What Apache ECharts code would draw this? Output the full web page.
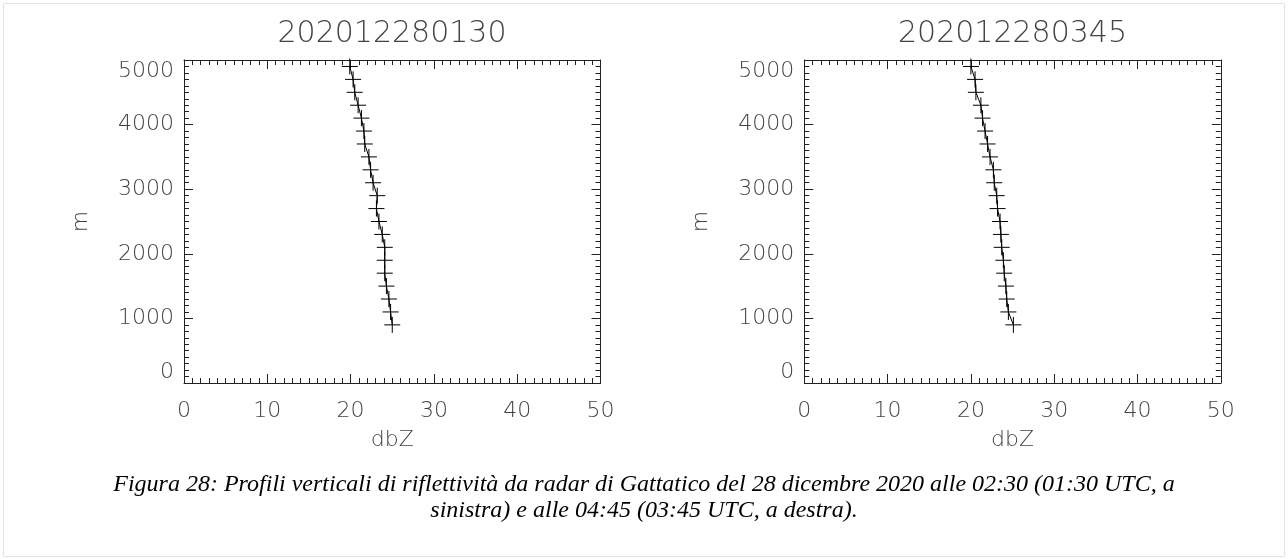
<!DOCTYPE html>
<html>
<head>
<meta charset="utf-8">
<script src="https://cdn.jsdelivr.net/npm/echarts@6/dist/echarts.min.js"></script>
<style>
html,body{margin:0;padding:0;background:#fff;}
#chart{width:1288px;height:559px;}
</style>
</head>
<body>
<div id="chart"></div>
<script>
// ---- data ----
const titles = ['202012280130', '202012280345'];
const heights = [900, 1100, 1300, 1500, 1700, 1900, 2100, 2300, 2500, 2700, 2900, 3100, 3300, 3500, 3700, 3900, 4100, 4300, 4500, 4700, 4900];
const dbzLeft = [25.0, 24.8, 24.6, 24.3, 24.1, 24.1, 24.1, 23.8, 23.4, 23.1, 23.2, 22.7, 22.4, 22.2, 21.7, 21.6, 21.3, 20.9, 20.5, 20.3, 19.9];
const dbzRight = [25.1, 24.5, 24.3, 24.2, 24.0, 23.9, 23.7, 23.6, 23.5, 23.2, 23.1, 22.8, 22.7, 22.3, 22.0, 21.7, 21.4, 21.2, 20.6, 20.5, 20.0];
const xTicks = [0, 10, 20, 30, 40, 50];
const yTicks = [0, 1000, 2000, 3000, 4000, 5000];
const xName = 'dbZ';
const yName = 'm';
const caption = 'Figura 28: Profili verticali di riflettività da radar di Gattatico del 28 dicembre 2020 alle 02:30 (01:30 UTC, a\nsinistra) e alle 04:45 (03:45 UTC, a destra).';

// ---- styling ----
const FONT = 'DejaVu Sans';
const TXT = '#444';
const AX = '#222';
const grids = [
  {left: 184, top: 60, width: 416.5, height: 323},
  {left: 804.3, top: 60, width: 416.5, height: 323}
];

function tickCfg() {
  return {
    axisLine: {show: true, onZero: false, lineStyle: {color: AX, width: 1}},
    axisTick: {show: true, inside: true, length: 9, lineStyle: {color: AX, width: 1}},
    minorTick: {show: true, splitNumber: 10, length: 5, lineStyle: {color: AX, width: 1}},
    splitLine: {show: false},
    minorSplitLine: {show: false}
  };
}

const plain = v => String(v);
const xAxes = [], yAxes = [];
[0, 1].forEach(g => {
  xAxes.push(Object.assign({
    type: 'value', gridIndex: g, position: 'bottom',
    min: xTicks[0], max: xTicks[xTicks.length - 1], interval: xTicks[1] - xTicks[0],
    name: xName, nameLocation: 'middle', nameGap: 46,
    nameTextStyle: {fontFamily: FONT, fontWeight: 200, fontSize: 22, color: TXT},
    axisLabel: {show: true, margin: 17, formatter: plain, fontFamily: FONT, fontWeight: 200, fontSize: 22, color: TXT}
  }, tickCfg()));
  yAxes.push(Object.assign({
    type: 'value', gridIndex: g, position: 'left',
    min: yTicks[0], max: yTicks[yTicks.length - 1], interval: yTicks[1] - yTicks[0],
    name: yName, nameLocation: 'middle', nameGap: 92, nameRotate: 90,
    nameTextStyle: {fontFamily: FONT, fontWeight: 200, fontSize: 22, color: TXT},
    axisLabel: {show: true, margin: 10, formatter: plain, fontFamily: FONT, fontWeight: 200, fontSize: 22, color: TXT,
      verticalAlignMaxLabel: 'top', verticalAlignMinLabel: 'bottom'}
  }, tickCfg()));
});
[0, 1].forEach(g => {
  xAxes.push(Object.assign({
    type: 'value', gridIndex: g, position: 'top',
    min: xTicks[0], max: xTicks[xTicks.length - 1], interval: xTicks[1] - xTicks[0],
    axisLabel: {show: false}
  }, tickCfg()));
  yAxes.push(Object.assign({
    type: 'value', gridIndex: g, position: 'right',
    min: yTicks[0], max: yTicks[yTicks.length - 1], interval: yTicks[1] - yTicks[0],
    axisLabel: {show: false}
  }, tickCfg()));
});

const CROSS = 'path://M5,0 L5,10 M0,5 L10,5';
function profile(g, vals) {
  return {
    type: 'line', xAxisIndex: g, yAxisIndex: g,
    data: vals.map((v, i) => [v, heights[i]]),
    symbol: CROSS, symbolSize: 16, showSymbol: true,
    lineStyle: {color: '#000', width: 1},
    itemStyle: {color: 'none', borderColor: '#000', borderWidth: 1},
    emphasis: {disabled: true},
    silent: true
  };
}

const option = {
  animation: false,
  backgroundColor: '#fff',
  grid: grids,
  xAxis: xAxes,
  yAxis: yAxes,
  series: [profile(0, dbzLeft), profile(1, dbzRight)],
  graphic: [
    {type: 'rect', shape: {x: 3.5, y: 3.5, width: 1281, height: 553}, style: {fill: 'none', stroke: '#e4e4dc', lineWidth: 1}, silent: true, z: -1},
    {type: 'text', x: 392, y: 34, style: {text: titles[0], font: '200 30px "DejaVu Sans"', fill: TXT, textAlign: 'center', textVerticalAlign: 'middle'}},
    {type: 'text', x: 1012.5, y: 34, style: {text: titles[1], font: '200 30px "DejaVu Sans"', fill: TXT, textAlign: 'center', textVerticalAlign: 'middle'}},
    {type: 'text', x: 644, y: 498, style: {text: caption, font: 'italic 24px "Liberation Serif"', fill: '#000', textAlign: 'center', textVerticalAlign: 'middle', lineHeight: 26}}
  ]
};

const chart = echarts.init(document.getElementById('chart'), null, {renderer: 'canvas'});
chart.setOption(option);
</script>
</body>
</html>
